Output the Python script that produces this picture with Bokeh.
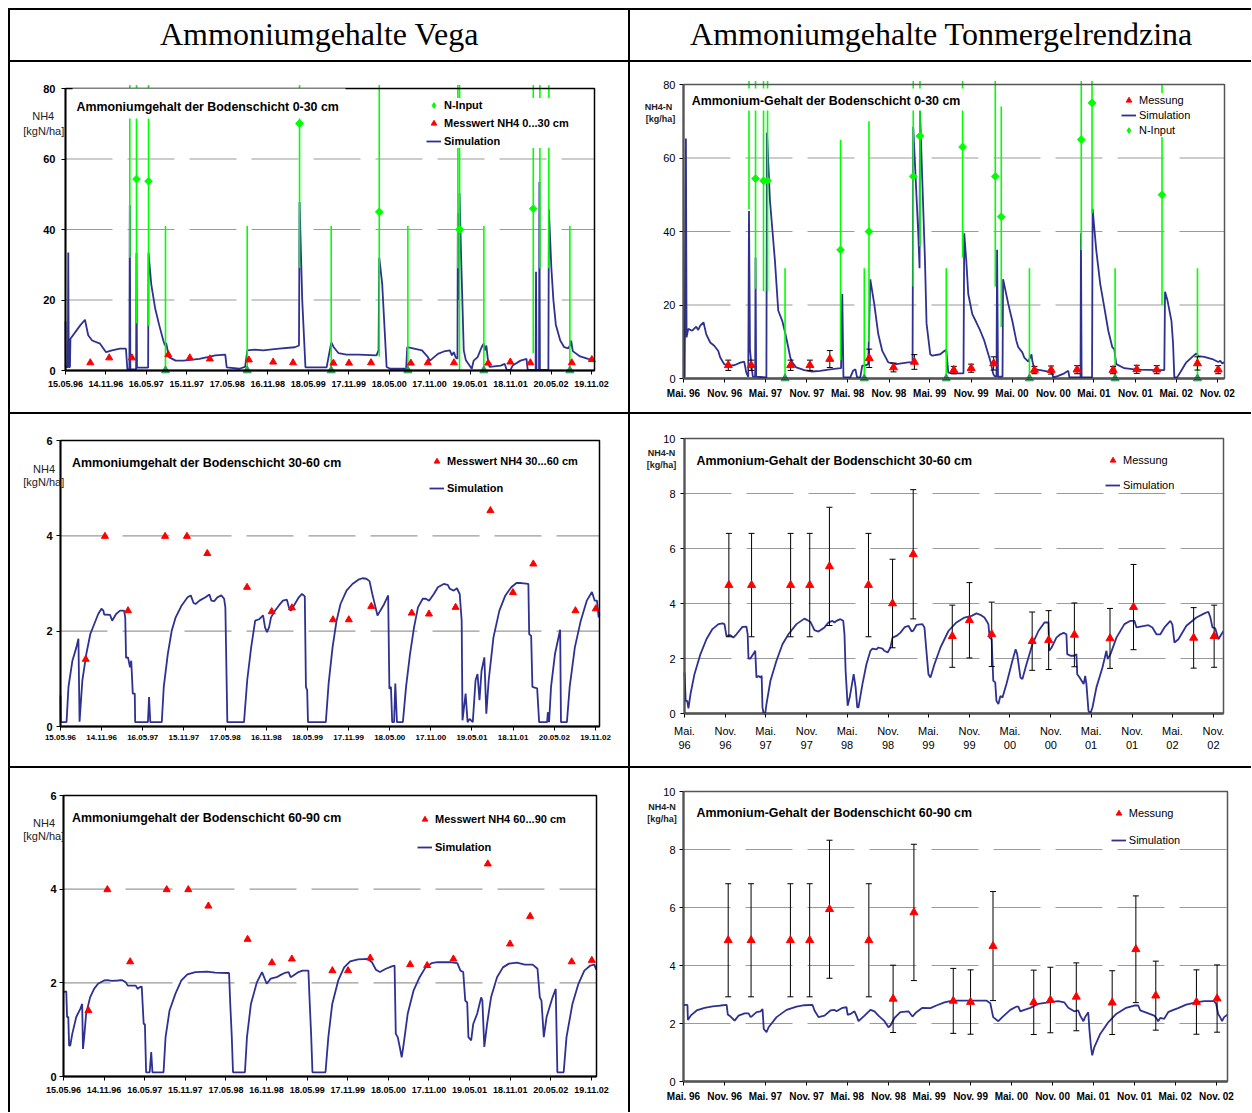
import numpy as np
from bokeh.plotting import figure
from bokeh.layouts import row, column
from bokeh.models import (Range1d, FixedTicker, Label, BoxAnnotation, Legend,
                          LegendItem, Spacer)
from bokeh.core.validation import silence
from bokeh.core.validation.warnings import MISSING_RENDERERS
from bokeh.embed import file_html
from bokeh.resources import INLINE

silence(MISSING_RENDERERS, True)

# ------------------------------------------------------------------ tick labels
vega_tick_labels = ["15.05.96", "14.11.96", "16.05.97", "15.11.97", "17.05.98", "16.11.98",
                    "18.05.99", "17.11.99", "18.05.00", "17.11.00", "19.05.01", "18.11.01",
                    "20.05.02", "19.11.02"]
tonm_tick_labels = ["Mai. 96", "Nov. 96", "Mai. 97", "Nov. 97", "Mai. 98", "Nov. 98",
                    "Mai. 99", "Nov. 99", "Mai. 00", "Nov. 00", "Mai. 01", "Nov. 01",
                    "Mai. 02", "Nov. 02"]

# ------------------------------------------------------------------ Vega (time in decimal years)
vega_mess_t = [1996.676, 1996.910, 1997.191, 1997.642, 1997.908, 1998.156, 1998.640, 1998.940,
               1999.186, 1999.686, 1999.879, 2000.152, 2000.645, 2000.855, 2001.179, 2001.603,
               2001.877, 2002.125, 2002.638, 2002.886]
vega_mess_0_30 = [2.2, 3.6, 3.6, 4.5, 3.6, 3.3, 3.0, 2.4, 2.2, 2.1, 2.1, 2.2, 2.1, 2.2, 2.2, 2.1,
                  2.4, 2.2, 2.2, 3.1]
vega_mess_30_60 = [1.41, 3.99, 2.43, 3.99, 3.99, 3.63, 2.92, 2.41, 2.49, 2.24, 2.24, 2.52, 2.38,
                   2.36, 2.50, 4.53, 2.81, 3.41, 2.43, 2.47]
vega_mess_60_90 = [1.41, 3.99, 2.45, 3.99, 3.99, 3.64, 2.93, 2.43, 2.51, 2.26, 2.26, 2.53, 2.39,
                   2.37, 2.51, 4.54, 2.83, 3.42, 2.45, 2.48]

vega_ninput = [(1997.165, 73), (1997.248, 54.3), (1997.397, 53.7), (1997.607, 0), (1998.619, 0),
               (1999.267, 70.1), (1999.659, 0), (2000.254, 45.0), (2000.608, 0), (2001.227, 70),
               (2001.248, 40.0), (2001.549, 0), (2002.161, 45.9), (2002.243, 70), (2002.354, 70),
               (2002.614, 0)]
vega_ninput_err = 41

vega_sim_0_30 = [
    (1996.369, 14.0), (1996.372, 1.0), (1996.398, 1.0), (1996.403, 33.5), (1996.409, 1.0),
    (1996.424, 1.0), (1996.430, 9.0), (1996.551, 12.8), (1996.610, 14.4), (1996.650, 10.0),
    (1996.699, 8.5), (1996.797, 7.6), (1996.871, 5.2), (1996.945, 5.7), (1997.043, 6.2),
    (1997.117, 6.2), (1997.135, 0.3), (1997.160, 0.3), (1997.165, 46.9), (1997.172, 0.3),
    (1997.243, 0.3), (1997.248, 33.3), (1997.254, 0.8), (1997.392, 0.8), (1997.397, 33.4),
    (1997.430, 24.6), (1997.480, 17.5), (1997.530, 12.8), (1997.580, 8.5), (1997.600, 7.1),
    (1997.615, 7.8), (1997.650, 3.8), (1997.732, 2.8), (1997.831, 2.8), (1998.027, 3.3),
    (1998.126, 3.8), (1998.224, 4.3), (1998.347, 4.5), (1998.365, 0.9), (1998.520, 0.5),
    (1998.593, 1.0), (1998.620, 5.7), (1998.716, 5.9), (1998.815, 5.7), (1999.012, 6.2),
    (1999.209, 6.6), (1999.260, 7.1), (1999.267, 47.8), (1999.300, 20.0), (1999.340, 0.9),
    (1999.602, 0.9), (1999.660, 8.0), (1999.690, 6.6), (1999.750, 4.9), (1999.848, 4.5),
    (1999.996, 4.5), (2000.220, 4.3), (2000.245, 5.7), (2000.254, 32.0), (2000.290, 24.6),
    (2000.345, 1.0), (2000.390, 0.5), (2000.587, 0.5), (2000.600, 6.6), (2000.685, 6.2),
    (2000.783, 5.7), (2000.857, 3.8), (2000.882, 2.8), (2000.980, 4.7), (2001.054, 5.4),
    (2001.128, 5.7), (2001.153, 4.3), (2001.177, 5.2), (2001.202, 3.6), (2001.222, 3.3),
    (2001.227, 44.7), (2001.240, 20.0), (2001.248, 50.3), (2001.270, 30.0), (2001.300, 5.7),
    (2001.325, 3.0), (2001.399, 0.5), (2001.423, 2.8), (2001.472, 3.8), (2001.521, 6.6),
    (2001.546, 7.6), (2001.561, 5.7), (2001.580, 7.1), (2001.600, 2.8), (2001.620, 1.0),
    (2001.757, 1.4), (2001.807, 1.9), (2001.831, 0.2), (2001.880, 0.2), (2001.905, 1.4),
    (2002.003, 2.8), (2002.077, 3.3), (2002.092, 0.2), (2002.190, 0.2), (2002.195, 28.0),
    (2002.200, 0.2), (2002.232, 0.2), (2002.237, 53.5), (2002.243, 0.2), (2002.348, 0.2),
    (2002.354, 45.7), (2002.385, 29.0), (2002.410, 20.0), (2002.440, 13.0), (2002.495, 8.5),
    (2002.544, 6.6), (2002.594, 6.3), (2002.615, 7.1), (2002.630, 8.5), (2002.650, 5.5),
    (2002.741, 4.0), (2002.840, 3.3), (2002.919, 3.0)]

vega_sim_30_60 = [
    (1996.369, 0.65), (1996.372, 0.09), (1996.442, 0.09), (1996.466, 0.83), (1996.514, 1.38),
    (1996.562, 1.66), (1996.587, 1.84), (1996.601, 0.10), (1996.635, 0.97), (1996.683, 1.52),
    (1996.732, 1.94), (1996.780, 2.15), (1996.828, 2.36), (1996.867, 2.47), (1996.891, 2.43),
    (1996.901, 2.35), (1996.973, 2.34), (1996.998, 2.22), (1997.046, 2.36), (1997.094, 2.43),
    (1997.143, 2.43), (1997.157, 2.29), (1997.167, 1.44), (1997.191, 1.45), (1997.215, 1.24),
    (1997.230, 1.38), (1997.249, 0.69), (1997.273, 0.69), (1997.278, 0.09), (1997.433, 0.09),
    (1997.447, 0.62), (1997.462, 0.09), (1997.602, 0.09), (1997.626, 0.83), (1997.675, 1.52),
    (1997.723, 2.01), (1997.771, 2.29), (1997.844, 2.54), (1997.916, 2.71), (1997.955, 2.75),
    (1997.989, 2.59), (1998.013, 2.57), (1998.061, 2.64), (1998.134, 2.71), (1998.182, 2.77),
    (1998.206, 2.64), (1998.240, 2.63), (1998.279, 2.71), (1998.327, 2.75), (1998.361, 2.68),
    (1998.376, 2.50), (1998.400, 0.09), (1998.603, 0.09), (1998.642, 0.97), (1998.690, 1.66),
    (1998.739, 2.22), (1998.787, 2.25), (1998.811, 2.29), (1998.835, 2.33), (1998.859, 2.08),
    (1998.883, 1.98), (1998.908, 2.08), (1998.932, 2.29), (1998.980, 2.43), (1999.028, 2.54),
    (1999.077, 2.64), (1999.125, 2.66), (1999.149, 2.50), (1999.174, 2.43), (1999.222, 2.57),
    (1999.270, 2.71), (1999.309, 2.78), (1999.343, 2.73), (1999.357, 0.83), (1999.372, 0.76),
    (1999.382, 0.09), (1999.599, 0.09), (1999.633, 0.90), (1999.681, 1.66), (1999.730, 2.22),
    (1999.778, 2.57), (1999.851, 2.85), (1999.923, 2.99), (1999.996, 3.08), (2000.044, 3.11),
    (2000.092, 3.10), (2000.131, 3.05), (2000.165, 2.78), (2000.189, 2.61), (2000.228, 2.33),
    (2000.262, 2.43), (2000.310, 2.57), (2000.358, 2.75), (2000.373, 0.79), (2000.392, 0.83),
    (2000.407, 0.09), (2000.430, 0.09), (2000.445, 0.90), (2000.465, 0.09), (2000.537, 0.09),
    (2000.576, 0.83), (2000.624, 1.52), (2000.673, 2.08), (2000.721, 2.50), (2000.779, 2.68),
    (2000.817, 2.68), (2000.856, 2.64), (2000.914, 2.78), (2000.963, 2.92), (2001.035, 2.99),
    (2001.084, 2.97), (2001.108, 2.89), (2001.156, 2.85), (2001.195, 2.90), (2001.229, 2.78),
    (2001.253, 2.22), (2001.263, 0.13), (2001.301, 0.69), (2001.325, 0.09), (2001.350, 0.16),
    (2001.388, 0.09), (2001.422, 0.97), (2001.446, 1.10), (2001.470, 0.55), (2001.495, 1.17),
    (2001.529, 1.45), (2001.553, 0.27), (2001.582, 0.97), (2001.640, 1.87), (2001.712, 2.43),
    (2001.785, 2.75), (2001.857, 2.92), (2001.920, 3.01), (2001.978, 3.01), (2002.065, 2.99),
    (2002.075, 1.94), (2002.099, 1.90), (2002.114, 0.83), (2002.172, 0.80), (2002.196, 0.09),
    (2002.293, 0.09), (2002.302, 0.30), (2002.317, 0.09), (2002.341, 0.83), (2002.389, 1.52),
    (2002.452, 2.03), (2002.462, 0.09), (2002.534, 0.09), (2002.568, 0.83), (2002.631, 1.66),
    (2002.703, 2.22), (2002.776, 2.64), (2002.839, 2.82), (2002.873, 2.64), (2002.900, 2.64),
    (2002.921, 2.29), (2002.931, 2.36)]

vega_sim_60_90 = [
    (1996.369, 1.80), (1996.403, 1.82), (1996.413, 1.27), (1996.428, 1.27), (1996.438, 0.66),
    (1996.452, 0.66), (1996.477, 0.91), (1996.526, 1.27), (1996.575, 1.44), (1996.599, 1.55),
    (1996.609, 0.59), (1996.624, 0.84), (1996.648, 1.34), (1996.697, 1.69), (1996.746, 1.87),
    (1996.795, 1.98), (1996.869, 2.05), (1996.908, 2.06), (1996.966, 2.04), (1997.040, 2.05),
    (1997.089, 2.06), (1997.138, 2.01), (1997.162, 1.94), (1997.260, 1.94), (1997.285, 1.87),
    (1997.309, 1.91), (1997.334, 1.92), (1997.358, 1.12), (1997.373, 1.12), (1997.388, 0.09),
    (1997.432, 0.09), (1997.451, 0.52), (1997.466, 0.09), (1997.603, 0.09), (1997.628, 0.84),
    (1997.677, 1.41), (1997.750, 1.77), (1997.823, 2.05), (1997.897, 2.18), (1997.995, 2.23),
    (1998.142, 2.24), (1998.240, 2.22), (1998.387, 2.21), (1998.411, 2.21), (1998.426, 1.55),
    (1998.445, 0.84), (1998.460, 0.09), (1998.607, 0.09), (1998.632, 0.84), (1998.681, 1.55),
    (1998.754, 2.01), (1998.818, 2.23), (1998.876, 1.98), (1998.925, 2.09), (1998.999, 2.12),
    (1999.048, 2.17), (1999.097, 2.21), (1999.146, 2.23), (1999.171, 2.12), (1999.209, 2.16),
    (1999.268, 2.23), (1999.317, 2.26), (1999.390, 2.26), (1999.405, 1.62), (1999.425, 0.84),
    (1999.440, 0.09), (1999.601, 0.09), (1999.636, 0.84), (1999.684, 1.55), (1999.758, 2.05),
    (1999.831, 2.33), (1999.905, 2.46), (2000.003, 2.50), (2000.125, 2.51), (2000.174, 2.44),
    (2000.223, 2.28), (2000.272, 2.23), (2000.346, 2.30), (2000.419, 2.35), (2000.453, 2.37),
    (2000.468, 0.91), (2000.492, 0.84), (2000.517, 0.63), (2000.541, 0.41), (2000.566, 0.70),
    (2000.615, 1.34), (2000.688, 1.84), (2000.762, 2.12), (2000.835, 2.33), (2000.909, 2.42),
    (2000.982, 2.44), (2001.129, 2.44), (2001.227, 2.42), (2001.266, 2.26), (2001.300, 2.23),
    (2001.325, 1.62), (2001.349, 1.58), (2001.364, 0.84), (2001.398, 0.77), (2001.423, 1.12),
    (2001.472, 1.34), (2001.521, 1.69), (2001.536, 1.62), (2001.560, 0.63), (2001.594, 1.12),
    (2001.643, 1.69), (2001.717, 2.12), (2001.790, 2.33), (2001.864, 2.41), (2001.962, 2.43),
    (2002.059, 2.39), (2002.157, 2.39), (2002.216, 2.30), (2002.245, 1.69), (2002.265, 1.62),
    (2002.294, 0.84), (2002.328, 1.27), (2002.402, 1.69), (2002.441, 1.87), (2002.461, 0.09),
    (2002.539, 0.09), (2002.574, 0.84), (2002.647, 1.55), (2002.721, 1.98), (2002.794, 2.26),
    (2002.868, 2.37), (2002.917, 2.39), (2002.941, 2.28)]

# ------------------------------------------------------------------ Tonmergelrendzina
tonm_mess_t = [1996.876, 1997.155, 1997.635, 1997.870, 1998.112, 1998.592, 1998.888, 1999.142,
               1999.622, 1999.833, 2000.107, 2000.604, 2000.807, 2001.123, 2001.561, 2001.850,
               2002.093, 2002.589, 2002.841]
nan = float("nan")
tonm_mess_0_30 = [3.6, 3.6, 3.6, 3.6, 5.3, 5.5, 3.0, 4.5, 2.3, 2.8, 4.1, 2.3, 2.3, 2.4, 2.3, 2.5,
                  2.4, 4.1, 2.4]
tonm_err_0_30 = [1.4, 1.4, 1.4, 1.4, 2.3, 2.5, 1.2, 2.0, 1.0, 1.1, 1.8, 1.0, 1.1, 1.1, 1.0, 1.1,
                 1.1, 1.8, 1.1]
tonm_mess_30_60 = [4.67, 4.67, 4.67, 4.67, 5.35, 4.67, 4.00, 5.79, 2.81, 3.39, 2.88, 2.63, 2.67,
                   2.86, 2.73, 3.87, nan, 2.75, 2.81]
tonm_err_30_60 = [1.88, 1.88, 1.88, 1.88, 2.15, 1.88, 1.61, 2.35, 1.13, 1.37, 1.17, 1.06, 1.07,
                  1.16, 1.09, 1.55, nan, 1.10, 1.13]
tonm_mess_60_90 = [4.87, 4.87, 4.87, 4.87, 5.94, 4.87, 2.85, 5.83, 2.78, 2.74, 4.67, 2.73, 2.81,
                   2.92, 2.72, 4.56, 2.96, 2.74, 2.86]
tonm_err_60_90 = [1.95, 1.95, 1.95, 1.95, 2.38, 1.95, 1.16, 2.35, 1.12, 1.11, 1.88, 1.11, 1.13,
                  1.17, 1.10, 1.84, 1.19, 1.11, 1.16]

tonm_ninput = [(1997.128, 76), (1997.208, 54.4), (1997.305, 53.8), (1997.354, 53.8), (1997.567, 0),
               (1998.243, 35), (1998.532, 0), (1998.589, 40), (1999.128, 55), (1999.210, 66),
               (1999.530, 0), (1999.729, 63), (2000.127, 55), (2000.200, 44), (2000.543, 0),
               (2001.174, 65), (2001.305, 75), (2001.586, 0), (2002.157, 50), (2002.589, 0)]
tonm_ninput_err = 30

tonm_sim_0_30 = [
    (1996.331, 0.45), (1996.345, 0.45), (1996.360, 65.3), (1996.368, 11.2), (1996.388, 13.5),
    (1996.437, 13.0), (1996.486, 14.1), (1996.510, 13.2), (1996.535, 14.4), (1996.574, 15.3),
    (1996.608, 12.0), (1996.656, 9.8), (1996.705, 8.9), (1996.754, 7.5), (1996.778, 5.7),
    (1996.827, 3.9), (1996.876, 3.5), (1996.949, 3.6), (1997.022, 4.3), (1997.070, 4.6),
    (1997.095, 1.6), (1997.119, 0.45), (1997.128, 45.6), (1997.140, 8.0), (1997.160, 3.0),
    (1997.175, 0.5), (1997.203, 0.5), (1997.208, 32.9), (1997.215, 0.5), (1997.340, 0.3),
    (1997.347, 66.9), (1997.383, 48.5), (1997.444, 32.0), (1997.484, 18.5), (1997.533, 15.7),
    (1997.572, 12.1), (1997.606, 8.5), (1997.631, 5.7), (1997.655, 4.4), (1997.704, 3.0),
    (1997.801, 2.3), (1997.898, 1.9), (1997.996, 2.1), (1998.093, 2.4), (1998.191, 2.7),
    (1998.249, 2.8), (1998.264, 23.0), (1998.278, 0.4), (1998.361, 0.3), (1998.395, 2.1),
    (1998.424, 2.5), (1998.444, 0.3), (1998.483, 0.3), (1998.507, 3.5), (1998.541, 3.5),
    (1998.580, 3.9), (1998.605, 27.0), (1998.653, 20.3), (1998.702, 12.1), (1998.751, 7.5),
    (1998.824, 4.4), (1998.921, 3.9), (1999.067, 4.4), (1999.120, 4.4), (1999.128, 68.5),
    (1999.189, 39.4), (1999.205, 30.0), (1999.210, 73.0), (1999.271, 32.0), (1999.290, 15.0),
    (1999.335, 6.6), (1999.360, 6.2), (1999.457, 6.6), (1999.506, 7.5), (1999.530, 7.8),
    (1999.555, 1.6), (1999.603, 1.4), (1999.740, 1.4), (1999.749, 39.5), (1999.774, 32.0),
    (1999.798, 23.0), (1999.847, 17.5), (1999.896, 15.3), (1999.944, 13.0), (1999.993, 10.3),
    (2000.042, 6.6), (2000.066, 4.8), (2000.081, 3.5), (2000.100, 1.4), (2000.115, 0.7),
    (2000.142, 0.5), (2000.149, 35.0), (2000.160, 0.5), (2000.215, 0.5), (2000.222, 27.0),
    (2000.285, 20.3), (2000.334, 15.7), (2000.383, 10.3), (2000.407, 8.5), (2000.456, 7.1),
    (2000.480, 5.7), (2000.529, 4.6), (2000.568, 6.6), (2000.578, 4.8), (2000.602, 2.5),
    (2000.675, 2.3), (2000.772, 1.9), (2000.821, 1.6), (2000.831, 0.3), (2000.894, 0.7),
    (2000.967, 1.4), (2001.016, 2.1), (2001.030, 0.3), (2001.165, 0.3), (2001.170, 39.5),
    (2001.178, 0.3), (2001.305, 0.3), (2001.312, 46.2), (2001.357, 34.8), (2001.405, 25.7),
    (2001.454, 19.4), (2001.503, 13.0), (2001.552, 8.5), (2001.576, 8.0), (2001.600, 3.9),
    (2001.698, 2.8), (2001.844, 2.4), (2002.136, 2.3), (2002.185, 2.3), (2002.194, 23.6),
    (2002.224, 21.2), (2002.272, 15.7), (2002.292, 9.4), (2002.307, 0.3), (2002.341, 0.3),
    (2002.380, 1.7), (2002.453, 4.4), (2002.526, 5.9), (2002.574, 6.8), (2002.599, 6.1),
    (2002.672, 5.9), (2002.769, 5.3), (2002.842, 4.5), (2002.867, 4.8), (2002.891, 4.1),
    (2002.918, 4.5)]

tonm_sim_30_60 = [
    (1996.331, 1.49), (1996.345, 0.46), (1996.364, 0.46), (1996.379, 0.19), (1996.404, 0.70),
    (1996.453, 1.43), (1996.527, 2.16), (1996.600, 2.70), (1996.674, 3.07), (1996.748, 3.25),
    (1996.797, 3.28), (1996.822, 3.25), (1996.846, 2.82), (1996.895, 2.85), (1996.930, 2.76),
    (1996.969, 2.88), (1997.043, 3.15), (1997.092, 3.16), (1997.107, 2.88), (1997.117, 2.00),
    (1997.141, 2.00), (1997.176, 2.16), (1997.200, 2.28), (1997.215, 1.31), (1997.240, 1.37),
    (1997.264, 1.31), (1997.279, 1.37), (1997.289, 0.22), (1997.303, 0.0), (1997.323, 0.0),
    (1997.338, 0.34), (1997.387, 1.19), (1997.461, 1.92), (1997.535, 2.52), (1997.608, 2.88),
    (1997.707, 3.25), (1997.805, 3.45), (1997.854, 3.37), (1997.879, 3.33), (1997.928, 3.03),
    (1997.977, 2.98), (1998.051, 3.13), (1998.100, 3.31), (1998.149, 3.37), (1998.174, 3.31),
    (1998.198, 3.37), (1998.247, 3.43), (1998.282, 3.37), (1998.297, 2.88), (1998.311, 1.55),
    (1998.336, 0.28), (1998.361, 0.58), (1998.410, 1.43), (1998.434, 0.95), (1998.454, 0.22),
    (1998.469, 0.22), (1998.518, 1.07), (1998.567, 1.79), (1998.616, 2.28), (1998.641, 2.36),
    (1998.690, 2.33), (1998.714, 2.40), (1998.764, 2.36), (1998.788, 2.28), (1998.828, 2.22),
    (1998.862, 2.40), (1998.887, 2.76), (1998.936, 2.82), (1998.985, 2.94), (1999.034, 3.13),
    (1999.084, 3.19), (1999.123, 2.98), (1999.142, 3.01), (1999.182, 3.22), (1999.255, 3.25),
    (1999.280, 3.13), (1999.304, 2.28), (1999.329, 1.43), (1999.354, 1.31), (1999.403, 1.79),
    (1999.477, 2.40), (1999.575, 3.00), (1999.673, 3.31), (1999.772, 3.49), (1999.860, 3.55),
    (1999.919, 3.64), (1999.968, 3.59), (2000.017, 3.49), (2000.042, 3.37), (2000.066, 3.25),
    (2000.081, 2.76), (2000.106, 2.70), (2000.126, 1.19), (2000.150, 1.13), (2000.165, 0.46),
    (2000.189, 0.34), (2000.214, 0.64), (2000.239, 0.58), (2000.288, 1.07), (2000.361, 1.92),
    (2000.401, 2.34), (2000.420, 2.16), (2000.460, 1.31), (2000.484, 1.25), (2000.534, 1.79),
    (2000.607, 2.52), (2000.681, 3.00), (2000.755, 3.31), (2000.804, 3.31), (2000.814, 2.28),
    (2000.843, 2.40), (2000.902, 2.76), (2000.951, 2.88), (2000.991, 2.93), (2001.025, 2.88),
    (2001.035, 2.16), (2001.074, 2.10), (2001.123, 2.10), (2001.148, 2.16), (2001.158, 1.43),
    (2001.187, 1.31), (2001.212, 1.19), (2001.237, 1.07), (2001.256, 1.37), (2001.271, 1.07),
    (2001.296, 0.10), (2001.320, 0.0), (2001.345, 0.22), (2001.394, 0.95), (2001.468, 1.67),
    (2001.517, 2.28), (2001.532, 1.98), (2001.567, 2.16), (2001.640, 2.76), (2001.738, 3.25),
    (2001.812, 3.37), (2001.861, 3.37), (2001.886, 3.13), (2001.984, 3.19), (2002.033, 3.21),
    (2002.082, 3.13), (2002.131, 2.88), (2002.180, 2.88), (2002.230, 3.13), (2002.303, 3.37),
    (2002.328, 3.23), (2002.353, 2.58), (2002.402, 2.70), (2002.500, 3.19), (2002.623, 3.49),
    (2002.721, 3.64), (2002.770, 3.70), (2002.795, 3.49), (2002.820, 3.13), (2002.854, 3.10),
    (2002.893, 2.70), (2002.917, 2.82), (2002.956, 3.00)]

tonm_sim_60_90 = [
    (1996.331, 2.62), (1996.345, 2.64), (1996.379, 2.64), (1996.384, 2.12), (1996.418, 2.27),
    (1996.491, 2.45), (1996.588, 2.54), (1996.686, 2.59), (1996.783, 2.62), (1996.857, 2.64),
    (1996.871, 2.31), (1996.905, 2.24), (1996.954, 2.10), (1997.003, 2.27), (1997.076, 2.35),
    (1997.125, 2.35), (1997.149, 2.22), (1997.173, 2.27), (1997.222, 2.39), (1997.271, 2.42),
    (1997.295, 2.50), (1997.310, 1.81), (1997.344, 1.70), (1997.369, 1.87), (1997.466, 2.22),
    (1997.588, 2.47), (1997.710, 2.58), (1997.807, 2.63), (1997.905, 2.64), (1997.929, 2.45),
    (1997.978, 2.22), (1998.051, 2.27), (1998.124, 2.45), (1998.173, 2.47), (1998.197, 2.42),
    (1998.271, 2.54), (1998.319, 2.56), (1998.334, 2.30), (1998.368, 2.33), (1998.417, 2.42),
    (1998.441, 2.27), (1998.466, 2.08), (1998.539, 2.27), (1998.612, 2.47), (1998.661, 2.42),
    (1998.709, 2.27), (1998.783, 2.08), (1998.831, 1.87), (1998.856, 1.93), (1998.904, 2.19),
    (1998.977, 2.39), (1999.075, 2.42), (1999.124, 2.24), (1999.172, 2.39), (1999.246, 2.54),
    (1999.343, 2.53), (1999.416, 2.62), (1999.514, 2.73), (1999.611, 2.79), (1999.758, 2.79),
    (1999.904, 2.79), (2000.026, 2.79), (2000.074, 2.70), (2000.109, 2.22), (2000.172, 2.08),
    (2000.221, 2.22), (2000.318, 2.47), (2000.391, 2.58), (2000.416, 2.58), (2000.440, 2.42),
    (2000.489, 2.47), (2000.562, 2.54), (2000.660, 2.68), (2000.781, 2.73), (2000.903, 2.77),
    (2000.976, 2.73), (2001.025, 2.54), (2001.098, 2.42), (2001.147, 2.45), (2001.171, 2.27),
    (2001.210, 2.08), (2001.230, 2.22), (2001.269, 2.39), (2001.284, 1.76), (2001.303, 1.18),
    (2001.318, 0.90), (2001.342, 1.18), (2001.415, 1.64), (2001.513, 2.04), (2001.610, 2.33),
    (2001.732, 2.54), (2001.830, 2.62), (2001.879, 2.62), (2001.903, 2.45), (2002.001, 2.35),
    (2002.074, 2.27), (2002.098, 2.19), (2002.122, 2.08), (2002.147, 2.19), (2002.195, 2.16),
    (2002.244, 2.39), (2002.293, 2.45), (2002.366, 2.53), (2002.464, 2.65), (2002.585, 2.73),
    (2002.683, 2.77), (2002.805, 2.77), (2002.829, 2.68), (2002.854, 2.33), (2002.878, 2.22),
    (2002.902, 2.08), (2002.927, 2.22), (2002.966, 2.30)]

# ------------------------------------------------------------------ helpers / styles
FONT = "Liberation Sans"
SERIF = "Liberation Serif"
SIM_COLOR = "#2E3192"
GREEN = "#00FF00"
ZERO_GREEN = "#2E9E5B"
RED = "#FF0000"
GRID_COLOR = "#9A9A9A"
GRID_DASH = "47 15"
WHISKER_OVERSHOOT_PX = 3.5      # N-input bars poke slightly above the plot area


def decimal_year(y, m, d):
    leap = (y % 4 == 0)
    mdays = [31, 29 if leap else 28, 31, 30, 31, 30, 31, 31, 30, 31, 30, 31]
    doy = sum(mdays[:m - 1]) + d - 1
    return y + doy / (366 if leap else 365)


def full_year(yy):
    return 1900 + yy if yy > 50 else 2000 + yy


def vega_tick_pos(lbl):
    d, m, y = (int(s) for s in lbl.split("."))
    return decimal_year(full_year(y), m, d)


def tonm_tick_pos(lbl):
    mon, y = lbl.split(". ")
    return decimal_year(full_year(int(y)), 5 if mon == "Mai" else 11, 1)


vega_ticks = [vega_tick_pos(l) for l in vega_tick_labels]
tonm_ticks = [tonm_tick_pos(l) for l in tonm_tick_labels]


def unzip(pairs):
    return [a for a, b in pairs], [b for a, b in pairs]


def make_chart(s):
    # cell position on the page (reference pixels); "frame" = plot area inside the cell.
    # The Bokeh frame covers the whole cell; axes sit at fixed data locations.
    cx, cy, W, H = s["cell"]
    L, T, FW, FH = s["frame"]
    R, B = W - L - FW, H - T - FH
    x0, x1 = s["xr"]
    y0, y1 = s["yr"]
    kx = (x1 - x0) / FW
    ky = (y1 - y0) / FH
    p = figure(width=W, height=H,
               x_range=Range1d(x0 - L * kx, x1 + R * kx),
               y_range=Range1d(y0 - B * ky, y1 + T * ky),
               title=None, output_backend="svg", toolbar_location=None, min_border=0,
               background_fill_color="white", border_fill_color="white")
    p.outline_line_color = None
    p.grid.visible = False

    def fx(px):
        return x0 + (px - cx - L) * kx

    def fy(py):
        return y1 - (py - cy - T) * ky

    xa, ya = p.xaxis[0], p.yaxis[0]
    for ax in (xa, ya):
        ax.axis_line_color = "black"
        ax.axis_line_width = 1.8
        ax.major_tick_out = 4
        ax.major_tick_in = 0
        ax.major_tick_line_color = "black"
        ax.minor_tick_line_color = None
        ax.major_label_text_font = FONT
        ax.major_label_text_color = "black"
    xa.fixed_location = y0
    xa.bounds = (x0, x1)
    xa.ticker = FixedTicker(ticks=s["xticks"])
    xa.major_label_overrides = {t: l for t, l in zip(s["xticks"], s["xlabels"])}
    xa.major_label_text_font_size = s["xfont"][0]
    xa.major_label_text_font_style = s["xfont"][1]
    xa.major_label_standoff = s["xstand"]
    ya.fixed_location = x0
    ya.bounds = (y0, y1)
    ya.ticker = FixedTicker(ticks=s["yticks"])
    ya.major_label_text_font_size = s["yfont"][0]
    ya.major_label_text_font_style = s["yfont"][1]
    ya.major_label_standoff = s["ystand"]

    # horizontal dashed gridlines, limited to the plot area
    gv = s["grid"]
    p.segment(x0=[x0] * len(gv), y0=gv, x1=[x1] * len(gv), y1=gv, line_color=GRID_COLOR,
              line_width=1.2, line_dash=GRID_DASH, level="underlay")

    st, sv = unzip(s["sim"])
    r_sim = p.line(st, sv, line_color=SIM_COLOR, line_width=1.8)

    rends = {"sim": r_sim}
    if "ninput" in s:
        nt, nv = unzip(s["ninput"])
        e = s["nerr"]
        top_lim = y1 + WHISKER_OVERSHOOT_PX * ky
        p.segment(x0=nt, y0=[max(y0, v - e) for v in nv], x1=nt,
                  y1=[min(top_lim, v + e) for v in nv], line_color=GREEN, line_width=1.6)
        zt = [t for t, v in zip(nt, nv) if v == 0]
        p.scatter(zt, [0.0] * len(zt), marker="triangle", size=8,
                  fill_color=ZERO_GREEN, line_color=ZERO_GREEN)
        dt_ = [t for t, v in zip(nt, nv) if v > 0]
        dv_ = [v for v in nv if v > 0]
        p.scatter(dt_, dv_, marker="square", angle=np.pi / 4, size=5.5,
                  fill_color=GREEN, line_color=GREEN)
        rends["nin"] = p.scatter([nan], [nan], marker="diamond", size=9,
                                 fill_color=GREEN, line_color=GREEN)
    mt, mv = s["mess_t"], s["mess"]
    if "err" in s:
        lo = [v - e for v, e in zip(mv, s["err"])]
        hi = [v + e for v, e in zip(mv, s["err"])]
        p.segment(x0=mt, y0=lo, x1=mt, y1=hi, line_color="black", line_width=1)
        p.scatter(mt + mt, lo + hi, marker="dash", size=6, line_color="black", line_width=1)
    rends["mess"] = p.scatter(mt, mv, marker="triangle", size=s["tri"],
                              fill_color=RED, line_color=RED)

    # plot-area border
    p.add_layout(BoxAnnotation(left=x0, right=x1, bottom=y0, top=y1, fill_color=None,
                               fill_alpha=0.0, line_color=s["outline"], line_alpha=1.0,
                               line_width=1.5))
    if "title_box" in s:
        bl, br, bt, bb = s["title_box"]
        p.add_layout(BoxAnnotation(left=fx(bl), right=fx(br), top=fy(bt), bottom=fy(bb),
                                   fill_color="white", fill_alpha=1.0, line_alpha=0.0))
    ttxt, tx, ty = s["title"]
    p.add_layout(Label(x=fx(tx), y=fy(ty), text=ttxt, text_font=FONT, text_font_size="12.4px",
                       text_font_style="bold", text_baseline="middle", text_align="left",
                       text_color="black"))
    yf_size, yf_style = s["ytitle_font"]
    for txt, px, py in s["ytitle"]:
        p.add_layout(Label(x=fx(px), y=fy(py), text=txt, text_font=FONT,
                           text_font_size=yf_size, text_font_style=yf_style,
                           text_align="center", text_baseline="middle", text_color="#222222"))

    gx, gy, pitch = s["legend_pos"]
    gh = 14
    sp = int(round(pitch - gh))
    pad = 2
    items = [LegendItem(label=lbl, renderers=[rends[key]]) for key, lbl in s["legend"]]
    n = len(items)
    lh = 2 * pad + n * gh + (n - 1) * sp
    top = gy - gh / 2 - pad - 2
    vx = gx - pad - cx
    vy = (cy + H) - (top + lh)
    leg = Legend(items=items, location=(vx, vy), padding=pad, margin=0, spacing=sp,
                 glyph_width=15, glyph_height=gh, label_height=gh, label_standoff=3,
                 label_text_font=FONT, label_text_font_size="11px",
                 label_text_font_style=s["legend_font"], label_text_color="black",
                 border_line_color=None, background_fill_color="white",
                 background_fill_alpha=1.0)
    p.add_layout(leg)
    return p


def header(w, text, xc):
    p = figure(width=w, height=50, x_range=Range1d(0, w), y_range=Range1d(0, 50), title=None,
               output_backend="svg", toolbar_location=None, min_border=0,
               x_axis_location=None, y_axis_location=None, outline_line_color=None,
               background_fill_color="white", border_fill_color="white")
    p.grid.visible = False
    # text centred on the cap height (reference: caps from 12 to 35 px below the cell top)
    p.add_layout(Label(x=xc, y=26.5, text=text, text_align="center", text_baseline="middle",
                       text_font=SERIF, text_font_size="32px", text_color="black"))
    return p


def bar(w, h):
    return Spacer(width=w, height=h, styles={"background-color": "black"})


vt0 = vega_ticks[0]
tt0 = tonm_ticks[0]
RW = 621          # right column width
R3 = 344          # third row height

A1 = dict(cell=(10, 62, 618, 350), frame=(55, 26, 529, 282), xr=(vt0, 2002.919), yr=(0, 80),
          xticks=vega_ticks, xlabels=vega_tick_labels, xfont=("9px", "bold"), xstand=6,
          yticks=[0, 20, 40, 60, 80], yfont=("11px", "bold"), ystand=6, grid=[20, 40, 60],
          outline="black", sim=vega_sim_0_30, ninput=vega_ninput, nerr=vega_ninput_err,
          mess_t=vega_mess_t, mess=vega_mess_0_30, tri=7,
          title=("Ammoniumgehalt der Bodenschicht 0-30 cm", 76, 106), title_box=(72, 345, 88, 118),
          ytitle=[("NH4", 42.7, 115), ("[kgN/ha]", 43.3, 130)], ytitle_font=("11px", "normal"),
          legend=[("nin", "N-Input"), ("mess", "Messwert NH4 0...30 cm"), ("sim", "Simulation")],
          legend_pos=(428, 105, 18), legend_font="bold")

A2 = dict(cell=(10, 414, 618, 352), frame=(50, 26, 539, 286), xr=(vt0, 2002.931), yr=(0, 6),
          xticks=vega_ticks, xlabels=vega_tick_labels, xfont=("8px", "bold"), xstand=4,
          yticks=[0, 2, 4, 6], yfont=("11px", "bold"), ystand=4, grid=[2, 4],
          outline="black", sim=vega_sim_30_60, mess_t=vega_mess_t, mess=vega_mess_30_60, tri=7,
          title=("Ammoniumgehalt der Bodenschicht 30-60 cm", 71.5, 462.7),
          ytitle=[("NH4", 43.5, 468.3), ("[kgN/ha]", 43.3, 481.7)], ytitle_font=("11px", "normal"),
          legend=[("mess", "Messwert NH4 30...60 cm"), ("sim", "Simulation")],
          legend_pos=(431, 460.7, 26.7), legend_font="bold")

A3 = dict(cell=(10, 768, 618, R3), frame=(53, 27, 533, 281), xr=(vt0, 2002.944), yr=(0, 6),
          xticks=vega_ticks, xlabels=vega_tick_labels, xfont=("9px", "bold"), xstand=6,
          yticks=[0, 2, 4, 6], yfont=("11px", "bold"), ystand=3, grid=[2, 4],
          outline="black", sim=vega_sim_60_90, mess_t=vega_mess_t, mess=vega_mess_60_90, tri=7,
          title=("Ammoniumgehalt der Bodenschicht 60-90 cm", 71.5, 817.7),
          ytitle=[("NH4", 43.5, 822.7), ("[kgN/ha]", 43.3, 835.7)], ytitle_font=("11px", "normal"),
          legend=[("mess", "Messwert NH4 60...90 cm"), ("sim", "Simulation")],
          legend_pos=(419, 819.3, 28), legend_font="bold")

B1 = dict(cell=(630, 62, RW, 350), frame=(53, 22, 541, 294), xr=(tt0, 2002.918), yr=(0, 80),
          xticks=tonm_ticks, xlabels=tonm_tick_labels, xfont=("10px", "bold"), xstand=5,
          yticks=[0, 20, 40, 60, 80], yfont=("11px", "normal"), ystand=4, grid=[20, 40, 60],
          outline="#555555", sim=tonm_sim_0_30, ninput=tonm_ninput, nerr=tonm_ninput_err,
          mess_t=tonm_mess_t, mess=tonm_mess_0_30, err=tonm_err_0_30, tri=8,
          title=("Ammonium-Gehalt der Bodenschicht 0-30 cm", 691.3, 100),
          title_box=(687, 968, 88, 110),
          ytitle=[("NH4-N", 658, 106.7), ("[kg/ha]", 660, 118.3)], ytitle_font=("9px", "bold"),
          legend=[("mess", "Messung"), ("sim", "Simulation"), ("nin", "N-Input")],
          legend_pos=(1123, 100, 14.7), legend_font="normal")

B2 = dict(cell=(630, 414, RW, 352), frame=(54, 24, 539, 275), xr=(tt0, 2002.956), yr=(0, 10),
          xticks=tonm_ticks, xlabels=[l.replace(" ", "\n") for l in tonm_tick_labels],
          xfont=("11px", "normal"), xstand=7,
          yticks=[0, 2, 4, 6, 8, 10], yfont=("11px", "normal"), ystand=5, grid=[2, 4, 6, 8],
          outline="#555555", sim=tonm_sim_30_60, mess_t=tonm_mess_t, mess=tonm_mess_30_60,
          err=tonm_err_30_60, tri=8,
          title=("Ammonium-Gehalt der Bodenschicht 30-60 cm", 696, 460),
          ytitle=[("NH4-N", 661, 452.3), ("[kg/ha]", 661, 464)], ytitle_font=("9px", "bold"),
          legend=[("mess", "Messung"), ("sim", "Simulation")],
          legend_pos=(1107, 460, 25), legend_font="normal")

B3 = dict(cell=(630, 768, RW, R3), frame=(53, 23, 544, 290), xr=(tt0, 2002.968), yr=(0, 10),
          xticks=tonm_ticks, xlabels=tonm_tick_labels, xfont=("10px", "bold"), xstand=5,
          yticks=[0, 2, 4, 6, 8, 10], yfont=("11px", "normal"), ystand=4, grid=[2, 4, 6, 8],
          outline="#555555", sim=tonm_sim_60_90, mess_t=tonm_mess_t, mess=tonm_mess_60_90,
          err=tonm_err_60_90, tri=8,
          title=("Ammonium-Gehalt der Bodenschicht 60-90 cm", 696, 812.7),
          ytitle=[("NH4-N", 661.5, 806), ("[kg/ha]", 661.5, 818.3)], ytitle_font=("9px", "bold"),
          legend=[("mess", "Messung"), ("sim", "Simulation")],
          legend_pos=(1112.8, 812.7, 26.7), legend_font="normal")

pA1, pA2, pA3 = make_chart(A1), make_chart(A2), make_chart(A3)
pB1, pB2, pB3 = make_chart(B1), make_chart(B2), make_chart(B3)
hL = header(618, "Ammoniumgehalte Vega", 309)
hR = header(RW, "Ammoniumgehalte Tonmergelrendzina", 311)

FULLW = 2 + 618 + 2 + RW
table = column(
    bar(FULLW, 2),
    row(bar(2, 50), hL, bar(2, 50), hR),
    bar(FULLW, 2),
    row(bar(2, 350), pA1, bar(2, 350), pB1),
    bar(FULLW, 2),
    row(bar(2, 352), pA2, bar(2, 352), pB2),
    bar(FULLW, 2),
    row(bar(2, R3), pA3, bar(2, R3), pB3),
)
TOTAL_H = 2 + 50 + 2 + 350 + 2 + 352 + 2 + R3
root = column(Spacer(width=8 + FULLW, height=8),
              row(Spacer(width=8, height=TOTAL_H), table))

open("out.html", "w").write(file_html(root, INLINE))
